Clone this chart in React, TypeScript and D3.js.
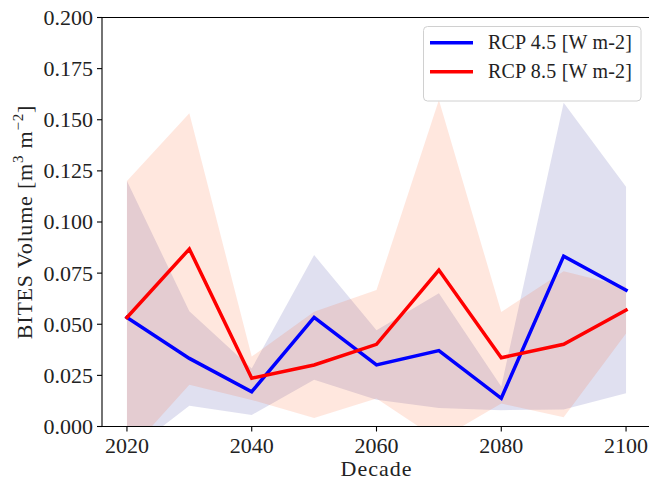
import React from "react";
import * as d3 from "d3";

// Decadal BITES volume: ensemble mean and spread for two emission scenarios
const decades = [2020, 2030, 2040, 2050, 2060, 2070, 2080, 2090, 2100];
const rcp45Mean = [0.0533, 0.0333, 0.017, 0.0534, 0.0301, 0.0371, 0.0138, 0.0833, 0.0667];
const rcp45Spread = [0.0667, 0.0231, 0.0114, 0.0305, 0.017, 0.028, 0.0058, 0.075, 0.0505];
const rcp85Mean = [0.0533, 0.0868, 0.0236, 0.0301, 0.0402, 0.0765, 0.0336, 0.0402, 0.0569];
const rcp85Spread = [0.0667, 0.0664, 0.0106, 0.026, 0.0265, 0.0831, 0.0224, 0.0357, 0.0114];
const yTicks = [0, 0.025, 0.05, 0.075, 0.1, 0.125, 0.15, 0.175, 0.2];
const xTicks = [2020, 2040, 2060, 2080, 2100];
const seriesNames = ["RCP 4.5 [W m-2]", "RCP 8.5 [W m-2]"];

const W = 649;
const H = 481;
const left = 102;
const top = 17.5;
const bottom = 426.5;
const right = 651;
const FONT = "'Liberation Serif', 'DejaVu Serif', serif";

export default function App() {
  const x = d3.scaleLinear().domain([2016, 2104]).range([left, right]);
  const y = d3.scaleLinear().domain([0, 0.2]).range([bottom, top]);

  const series = [
    { name: seriesNames[0], mean: rcp45Mean, spread: rcp45Spread, line: "#0000ff", band: "#000080", bandAlpha: 0.12 },
    { name: seriesNames[1], mean: rcp85Mean, spread: rcp85Spread, line: "#ff0000", band: "#ff4500", bandAlpha: 0.13 },
  ];

  // mean ± spread envelope
  const bandPath = (mean: number[], spread: number[]) =>
    d3
      .area<number>()
      .x((_, i) => x(decades[i]))
      .y0((d, i) => y(d - spread[i]))
      .y1((d, i) => y(d + spread[i]))(mean) as string;

  const linePath = (mean: number[]) =>
    d3
      .line<number>()
      .x((_, i) => x(decades[i]))
      .y((d) => y(d))(mean) as string;

  return (
    <svg
      width={W}
      height={H}
      style={{ position: "absolute", left: 0, top: 0, background: "#fff" }}
      fontFamily={FONT}
    >
      <defs>
        <clipPath id="plotArea">
          <rect x={left} y={top} width={right - left} height={bottom - top} />
        </clipPath>
      </defs>

      <g clipPath="url(#plotArea)">
        {series.map((s) => (
          <path key={s.name + "-band"} d={bandPath(s.mean, s.spread)} fill={s.band} fillOpacity={s.bandAlpha} />
        ))}
        {series.map((s) => (
          <path
            key={s.name + "-line"}
            d={linePath(s.mean)}
            fill="none"
            stroke={s.line}
            strokeWidth={3.5}
            strokeLinejoin="miter"
            strokeLinecap="square"
          />
        ))}
      </g>

      {/* spines */}
      <g stroke="#000" strokeWidth={1.1} fill="none">
        <line x1={left} x2={left} y1={top} y2={bottom} />
        <line x1={left} x2={right} y1={bottom} y2={bottom} />
        <line x1={left} x2={right} y1={top} y2={top} />
        <line x1={right} x2={right} y1={top} y2={bottom} />
      </g>

      {/* y axis */}
      {yTicks.map((t) => (
        <g key={"y" + t}>
          <line x1={left - 5} x2={left} y1={y(t)} y2={y(t)} stroke="#000" strokeWidth={1.1} />
          <text x={left - 9} y={y(t)} dy="0.34em" textAnchor="end" fontSize={22} fill="#222">
            {d3.format(".3f")(t)}
          </text>
        </g>
      ))}

      {/* x axis */}
      {xTicks.map((t) => (
        <g key={"x" + t}>
          <line x1={x(t)} x2={x(t)} y1={bottom} y2={bottom + 5} stroke="#000" strokeWidth={1.1} />
          <text x={x(t)} y={452.5} textAnchor="middle" fontSize={22} fill="#222">
            {t}
          </text>
        </g>
      ))}

      <text x={(left + right) / 2} y={476} textAnchor="middle" fontSize={22} letterSpacing={1} fill="#222">
        Decade
      </text>

      <text
        transform={`translate(32, ${(top + bottom) / 2}) rotate(-90)`}
        textAnchor="middle"
        fontSize={22}
        letterSpacing={0.8}
        fill="#222"
      >
        BITES Volume [m
        <tspan fontSize={15} dy={-9}>3</tspan>
        <tspan dy={9}> m</tspan>
        <tspan fontSize={15} dy={-9}>−2</tspan>
        <tspan dy={9}>]</tspan>
      </text>

      {/* legend */}
      <g>
        <rect x={423.5} y={26.5} width={217.5} height={74.5} rx={4} fill="#fff" fillOpacity={0.8} stroke="#d0d0d0" strokeWidth={1} />
        {series.map((s, i) => (
          <g key={s.name + "-legend"}>
            <line x1={430} x2={473} y1={42.7 + i * 29} y2={42.7 + i * 29} stroke={s.line} strokeWidth={3.5} />
            <text x={488} y={42.7 + i * 29} dy="0.33em" fontSize={20} letterSpacing={0.2} fill="#222">
              {s.name}
            </text>
          </g>
        ))}
      </g>
    </svg>
  );
}
